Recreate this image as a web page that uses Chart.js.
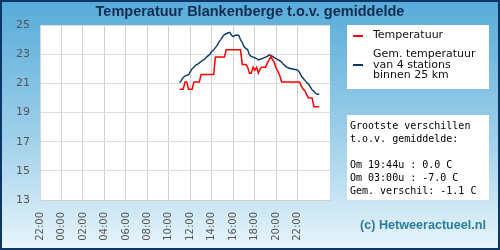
<!DOCTYPE html>
<html>
<head>
<meta charset="utf-8">
<script src="https://cdn.jsdelivr.net/npm/chart.js@4/dist/chart.umd.min.js"></script>
<style>
    body { margin: 0; }
    #wrap {
        position: relative; width: 500px; height: 250px; overflow: hidden;
        background: linear-gradient(to bottom, #56abd9 0%, #9fd0ea 55%, #e9f5fb 100%);
    }
    #frame {
        position: absolute; left: 0; top: 0; width: 500px; height: 250px;
        box-sizing: border-box; border: 2px solid #0b3766; pointer-events: none;
    }
    canvas { position: absolute; left: 0; top: 0; }
    #title {
        position: absolute; left: 0; top: 2px; width: 500px; text-align: center;
        font: bold 14.5px "Liberation Sans", Arial, sans-serif; color: #0d2c52; line-height: 18px;
    }
    .box { position: absolute; left: 347px; width: 142px; background: #fff; }
    #legend { top: 25px; height: 64px; font: 11px "DejaVu Sans", sans-serif; color: #111; }
    #legend .sw { position: absolute; left: 6px; width: 10px; height: 2px; }
    #legend .lbl { position: absolute; left: 26px; line-height: 10.7px; }
    #stats {
        top: 115px; height: 85px; box-sizing: border-box; padding: 4px 0 0 3px;
        font: 10px "DejaVu Sans Mono", monospace; line-height: 13px; white-space: pre; color: #000;
    }
    #copy {
        position: absolute; left: 360px; top: 218px;
        font: bold 12.6px "Liberation Sans", Arial, sans-serif; color: #2b7d9e;
    }
</style>
</head>
<body>
<div id="wrap">
    <canvas id="chart" width="500" height="250"></canvas>
    <div id="title">Temperatuur Blankenberge t.o.v. gemiddelde</div>
    <div id="legend" class="box">
        <div class="sw" style="top:10px;background:#ff0000"></div>
        <div class="lbl" style="top:5px">Temperatuur</div>
        <div class="sw" style="top:39px;background:#0b3766"></div>
        <div class="lbl" style="top:24px">Gem. temperatuur<br>van 4 stations<br>binnen 25 km</div>
    </div>
    <div id="stats" class="box">Grootste verschillen
t.o.v. gemiddelde:

Om 19:44u : 0.0 C
Om 03:00u : -7.0 C
Gem. verschil: -1.1 C</div>
    <div id="copy">(c) Hetweeractueel.nl</div>
    <div id="frame"></div>
</div>
<script>
const times = [
    '11:00','11:10','11:20','11:30','11:40','11:50',
    '12:00','12:10','12:20','12:30','12:40','12:50',
    '13:00','13:10','13:20','13:30','13:40','13:50',
    '14:00','14:10','14:20','14:30','14:40','14:50',
    '15:00','15:10','15:20','15:30','15:40','15:50',
    '16:00','16:10','16:20','16:30','16:40','16:50',
    '17:00','17:10','17:20','17:30','17:40','17:50',
    '18:00','18:10','18:20','18:30','18:40','18:50',
    '19:00','19:10','19:20','19:30','19:40','19:50',
    '20:00','20:10','20:20','20:30','20:40','20:50',
    '21:00','21:10','21:20','21:30','21:40','21:50',
    '22:00','22:10','22:20','22:30','22:40','22:50',
    '23:00','23:10','23:20','23:30','23:40','23:50',
    '00:00'
];

const temperatuur = [
    20.6, 20.6, 20.6, 21.1, 21.1, 20.6,
    20.6, 20.6, 21.1, 21.1, 21.1, 21.1,
    21.6, 21.6, 21.6, 21.6, 21.6, 21.6,
    21.6, 21.6, 22.8, 22.8, 22.8, 22.8,
    22.8, 22.8, 23.3, 23.3, 23.3, 23.3,
    23.3, 23.3, 23.3, 23.3, 23.3, 22.3,
    22.3, 22.3, 22.1, 21.7, 21.7, 22.1,
    21.9, 22.1, 21.7, 22.0, 22.1, 22.1,
    22.1, 22.4, 22.6, 22.85, 22.6, 22.4,
    22.0, 21.8, 21.5, 21.1, 21.1, 21.1,
    21.1, 21.1, 21.1, 21.1, 21.1, 21.1,
    21.1, 21.1, 20.8, 20.6, 20.5, 20.2,
    20.0, 20.0, 20.0, 19.4, 19.4, 19.4,
    19.4
];

const gemiddelde = [
    21.05, 21.2, 21.4, 21.5, 21.55, 21.6,
    21.8, 22.0, 22.1, 22.25, 22.3, 22.4,
    22.5, 22.6, 22.65, 22.8, 22.9, 23.0,
    23.2, 23.3, 23.45, 23.6, 23.85, 24.0,
    24.2, 24.35, 24.4, 24.45, 24.5, 24.3,
    24.2, 24.3, 24.3, 24.3, 24.0, 23.8,
    23.5, 23.4, 23.3, 22.95, 22.85, 22.8,
    22.75, 22.7, 22.6, 22.65, 22.7, 22.75,
    22.8, 22.85, 22.95, 22.9, 22.85, 22.75,
    22.7, 22.6, 22.55, 22.45, 22.3, 22.2,
    22.1, 22.05, 22.0, 22.0, 21.95, 21.95,
    21.9, 21.75, 21.5, 21.35, 21.2, 21.05,
    20.95, 20.75, 20.55, 20.45, 20.3, 20.25,
    20.25
];

const yTicks = [13, 15, 17, 19, 21, 23, 25];

// hours counted from 22:00 on the first day
function toHours(t) {
    const [hh, mm] = t.split(':').map(Number);
    let v = hh + mm / 60;
    if (v < 11) v += 24;
    return v + 2;
}

const xs = times.map(toHours);
const pts = arr => arr.map((v, i) => ({ x: xs[i], y: v }));

const plotBg = {
    id: 'plotBg',
    beforeDraw(chart) {
        const { ctx, chartArea: a } = chart;
        ctx.save();
        ctx.fillStyle = '#fff';
        ctx.fillRect(a.left, a.top, a.right - a.left, a.bottom - a.top);
        ctx.restore();
    }
};

new Chart(document.getElementById('chart'), {
    type: 'line',
    data: {
        datasets: [
            { label: 'Temperatuur', data: pts(temperatuur), borderColor: '#ff0000', borderWidth: 1.5 },
            { label: 'Gem. temperatuur', data: pts(gemiddelde), borderColor: '#0b3766', borderWidth: 1.4 }
        ]
    },
    options: {
        responsive: false,
        animation: false,
        layout: { padding: { left: 0, right: 170, top: 25, bottom: 0 } },
        elements: { point: { radius: 0 }, line: { tension: 0 } },
        plugins: { legend: { display: false }, tooltip: { enabled: false } },
        scales: {
            x: {
                type: 'linear', min: 0, max: 27,
                afterFit: s => { s.height = 50; },
                afterBuildTicks: s => { s.ticks = s.ticks.filter(t => t.value % 2 === 0); },
                ticks: {
                    stepSize: 2, minRotation: 90, maxRotation: 90, padding: 12,
                    color: '#555', font: { family: 'DejaVu Sans', size: 10 },
                    callback: v => String((v + 22) % 24).padStart(2, '0') + ':00'
                },
                grid: { color: '#cfcfcf', drawTicks: false },
                border: { color: '#cfcfcf' }
            },
            y: {
                min: 13, max: 25,
                afterFit: s => { s.width = 40; },
                afterBuildTicks: s => { s.ticks = yTicks.map(v => ({ value: v })); },
                ticks: { padding: 10, color: '#555', font: { family: 'DejaVu Sans', size: 11 } },
                grid: { color: '#dddddd', drawTicks: false },
                border: { color: '#d5d5d5' }
            }
        }
    },
    plugins: [plotBg]
});
</script>
</body>
</html>
